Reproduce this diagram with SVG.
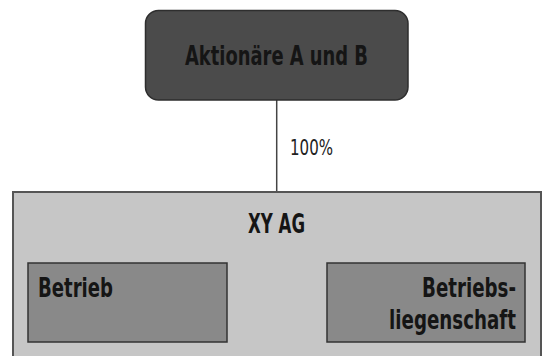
<svg xmlns="http://www.w3.org/2000/svg" width="544" height="356" viewBox="0 0 544 356">
<style>
.t{font-family:"DejaVu Sans","Liberation Sans",sans-serif;font-stretch:condensed;font-weight:bold;font-size:26.5px;fill:#151515}
.lbl{font-family:"DejaVu Sans","Liberation Sans",sans-serif;font-stretch:condensed;font-size:20.5px;fill:#222}
.top{fill:#4b4b4b;stroke:#2e2e2e;stroke-width:1.5}
.outer{fill:#c6c6c6;stroke:#555;stroke-width:2}
.inner{fill:#898989;stroke:#333;stroke-width:1.5}
.conn{stroke:#444;stroke-width:1.5;fill:none}
</style>
<rect width="544" height="356" fill="#fff"/>
<g id="connectors">
<line class="conn" x1="276.7" y1="100" x2="276.7" y2="192"/>
<text class="lbl" x="290" y="155" textLength="43" lengthAdjust="spacingAndGlyphs">100%</text>
</g>
<g id="aktionaere">
<rect class="top" x="145.5" y="10.5" width="262.5" height="89.5" rx="13"/>
<text class="t" x="276.5" y="65" text-anchor="middle" textLength="183" lengthAdjust="spacingAndGlyphs">Aktionäre A und B</text>
</g>
<g id="xyag">
<rect class="outer" x="13" y="192" width="528" height="170"/>
<text class="t" x="276.5" y="233" text-anchor="middle" textLength="57" lengthAdjust="spacingAndGlyphs">XY AG</text>
</g>
<g id="betrieb">
<rect class="inner" x="28" y="263" width="199" height="79"/>
<text class="t" x="38" y="297" textLength="75" lengthAdjust="spacingAndGlyphs">Betrieb</text>
</g>
<g id="betriebsliegenschaft">
<rect class="inner" x="327" y="263" width="198" height="79"/>
<text class="t" x="516" y="297" text-anchor="end" textLength="94" lengthAdjust="spacingAndGlyphs">Betriebs-</text>
<text class="t" x="516" y="329" text-anchor="end" textLength="127" lengthAdjust="spacingAndGlyphs">liegenschaft</text>
</g>
</svg>
